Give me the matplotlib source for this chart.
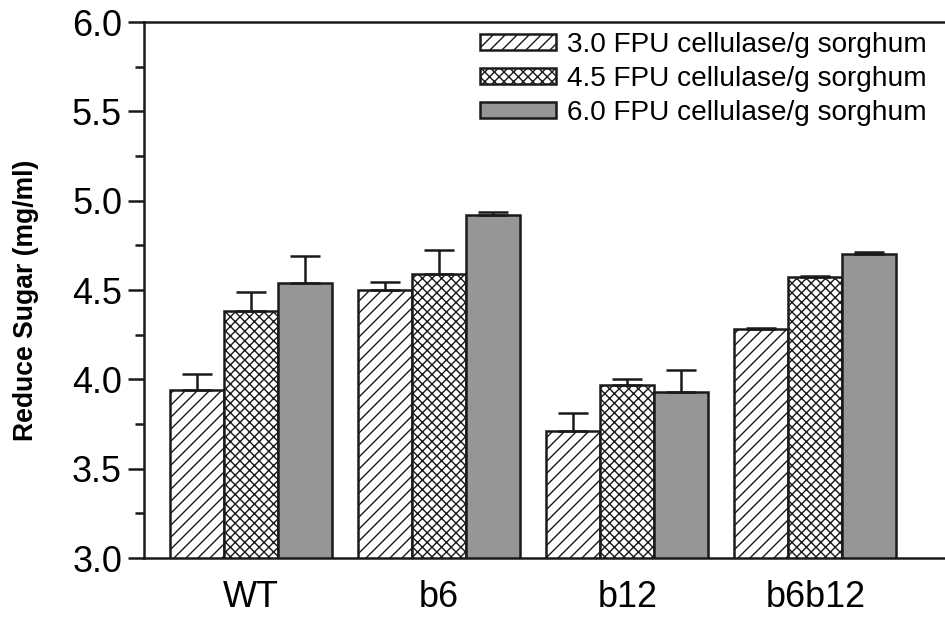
import matplotlib
matplotlib.use('Agg')
import matplotlib.pyplot as plt
import numpy as np
from matplotlib.ticker import MultipleLocator

categories = ['WT', 'b6', 'b12', 'b6b12']
series_labels = ['3.0 FPU cellulase/g sorghum',
                 '4.5 FPU cellulase/g sorghum',
                 '6.0 FPU cellulase/g sorghum']
vals_30 = [3.94, 4.50, 3.71, 4.28]
vals_45 = [4.38, 4.59, 3.97, 4.57]
vals_60 = [4.54, 4.92, 3.93, 4.70]
err_30 = [0.09, 0.045, 0.10, 0.01]
err_45 = [0.11, 0.135, 0.03, 0.01]
err_60 = [0.15, 0.015, 0.12, 0.01]

DPI = 144
W, H = 945, 620


def pt(px):
    return px * 72.0 / DPI


plt.rcParams['font.family'] = ['Liberation Sans', 'DejaVu Sans']
plt.rcParams['hatch.linewidth'] = pt(1.4)

fig = plt.figure(figsize=(W / DPI, H / DPI), dpi=DPI)
ax = fig.add_axes([144 / W, (H - 558) / H, 1 - 144 / W, (558 - 22) / H])

x = np.arange(len(categories))
bw = 0.287
series = [vals_30, vals_45, vals_60]
errs = [err_30, err_45, err_60]
hatches = ['////', 'xxxxx', None]
faces = ['white', 'white', '#969696']
offsets = [-bw, 0, bw]

for vals, err, h, fc, off, lab in zip(series, errs, hatches, faces, offsets, series_labels):
    ax.bar(x + off, vals, width=bw, bottom=0, color=fc, edgecolor='#1a1a1a',
           hatch=h, linewidth=pt(2.5), label=lab, zorder=2)
    ax.errorbar(x + off, vals, yerr=[np.zeros(len(vals)), err], fmt='none',
                ecolor='#1a1a1a', elinewidth=pt(2.5), capsize=pt(15),
                capthick=pt(2.5), zorder=3)

ax.set_ylim(3.0, 6.0)
ax.set_xlim(-0.569, 3.689)
ax.set_xticks(x)
ax.set_xticklabels(categories, fontsize=pt(36))
ax.yaxis.set_major_locator(MultipleLocator(0.5))
ax.yaxis.set_minor_locator(MultipleLocator(0.25))
ax.yaxis.set_major_formatter(matplotlib.ticker.FormatStrFormatter('%.1f'))
ax.tick_params(axis='y', which='major', direction='out', length=pt(16),
               width=pt(2.5), labelsize=pt(36), pad=pt(6), color='#1a1a1a')
ax.tick_params(axis='y', which='minor', direction='out', length=pt(9),
               width=pt(2.5), color='#1a1a1a')
ax.tick_params(axis='x', length=0, pad=pt(22))
for s in ['left', 'top', 'bottom']:
    ax.spines[s].set_linewidth(pt(2.5))
    ax.spines[s].set_color('#1a1a1a')
ax.spines['right'].set_visible(False)

fig.text(26 / W, (H - 300) / H, 'Reduce Sugar (mg/ml)', rotation=90,
         fontsize=pt(26.5), fontweight='bold', ha='center', va='center')

leg = ax.legend(loc='upper left', bbox_to_anchor=(480 / W, (H - 32) / H),
                bbox_transform=fig.transFigure, frameon=False,
                fontsize=pt(28), handlelength=76 / 28, handleheight=13 / 28,
                handletextpad=11 / 28, labelspacing=8 / 28, borderpad=0,
                borderaxespad=0)

fig.savefig('out.png', dpi=DPI)
